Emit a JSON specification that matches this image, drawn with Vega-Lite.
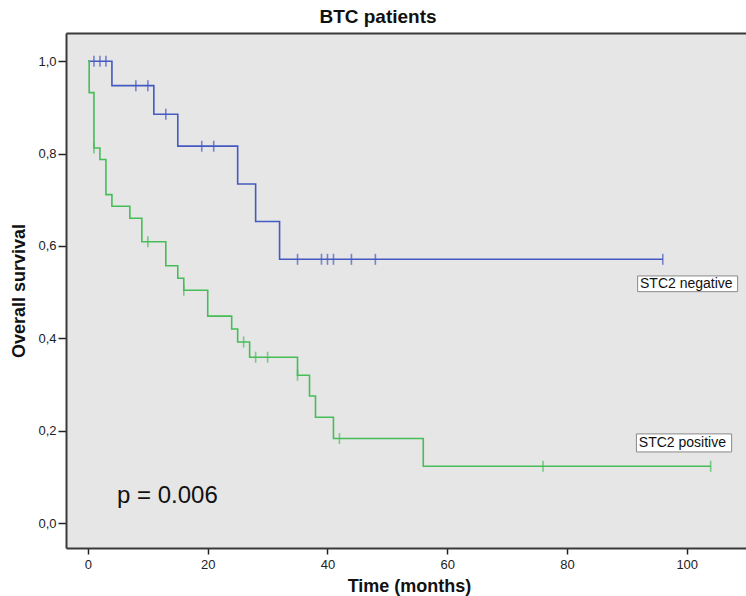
{
  "$schema": "https://vega.github.io/schema/vega-lite/v6.json",
  "width": 680,
  "height": 515,
  "autosize": {"type": "none"},
  "padding": {"left": 66, "top": 33, "right": 0, "bottom": 48},
  "background": "white",
  "config": {
    "font": "Liberation Sans",
    "view": {"stroke": null, "fill": "#e6e6e6"},
    "axis": {"grid": false, "domain": true, "domainColor": "#3a3a3a", "domainWidth": 2, "tickColor": "#222", "tickWidth": 1.5, "labelColor": "#222", "labelFont": "Liberation Sans", "labelFontSize": 13, "titleFont": "Liberation Sans", "titleFontWeight": "bold", "titleFontSize": 18, "titleColor": "#111"}
  },
  "title": {"text": "BTC patients", "anchor": "middle", "frame": "bounds", "fontSize": 19, "fontWeight": "bold", "font": "Liberation Sans", "color": "#111", "offset": 6},
  "resolve": {"axis": {"x": "independent"}},
  "datasets": {
    "curves": [
      {"group": "STC2 negative", "time": 0, "surv": 1.0},
      {"group": "STC2 negative", "time": 4, "surv": 0.947},
      {"group": "STC2 negative", "time": 11, "surv": 0.885},
      {"group": "STC2 negative", "time": 15, "surv": 0.816},
      {"group": "STC2 negative", "time": 25, "surv": 0.734},
      {"group": "STC2 negative", "time": 28, "surv": 0.653},
      {"group": "STC2 negative", "time": 32, "surv": 0.571},
      {"group": "STC2 negative", "time": 96, "surv": 0.571},
      {"group": "STC2 positive", "time": 0, "surv": 1.0},
      {"group": "STC2 positive", "time": 0.2, "surv": 0.932},
      {"group": "STC2 positive", "time": 1, "surv": 0.812},
      {"group": "STC2 positive", "time": 2, "surv": 0.787},
      {"group": "STC2 positive", "time": 3, "surv": 0.711},
      {"group": "STC2 positive", "time": 4, "surv": 0.686},
      {"group": "STC2 positive", "time": 7, "surv": 0.660},
      {"group": "STC2 positive", "time": 9, "surv": 0.609},
      {"group": "STC2 positive", "time": 13, "surv": 0.557},
      {"group": "STC2 positive", "time": 15, "surv": 0.530},
      {"group": "STC2 positive", "time": 16, "surv": 0.504},
      {"group": "STC2 positive", "time": 20, "surv": 0.448},
      {"group": "STC2 positive", "time": 24, "surv": 0.420},
      {"group": "STC2 positive", "time": 25, "surv": 0.392},
      {"group": "STC2 positive", "time": 27, "surv": 0.359},
      {"group": "STC2 positive", "time": 35, "surv": 0.320},
      {"group": "STC2 positive", "time": 37, "surv": 0.275},
      {"group": "STC2 positive", "time": 38, "surv": 0.229},
      {"group": "STC2 positive", "time": 41, "surv": 0.183},
      {"group": "STC2 positive", "time": 56, "surv": 0.123},
      {"group": "STC2 positive", "time": 104, "surv": 0.123}
    ],
    "censors": [
      {"group": "STC2 negative", "time": 1, "surv": 1.0},
      {"group": "STC2 negative", "time": 2, "surv": 1.0},
      {"group": "STC2 negative", "time": 3, "surv": 1.0},
      {"group": "STC2 negative", "time": 8, "surv": 0.947},
      {"group": "STC2 negative", "time": 10, "surv": 0.947},
      {"group": "STC2 negative", "time": 13, "surv": 0.885},
      {"group": "STC2 negative", "time": 19, "surv": 0.816},
      {"group": "STC2 negative", "time": 21, "surv": 0.816},
      {"group": "STC2 negative", "time": 35, "surv": 0.571},
      {"group": "STC2 negative", "time": 39, "surv": 0.571},
      {"group": "STC2 negative", "time": 40, "surv": 0.571},
      {"group": "STC2 negative", "time": 41, "surv": 0.571},
      {"group": "STC2 negative", "time": 44, "surv": 0.571},
      {"group": "STC2 negative", "time": 48, "surv": 0.571},
      {"group": "STC2 negative", "time": 96, "surv": 0.571},
      {"group": "STC2 positive", "time": 1, "surv": 0.812},
      {"group": "STC2 positive", "time": 10, "surv": 0.609},
      {"group": "STC2 positive", "time": 16, "surv": 0.504},
      {"group": "STC2 positive", "time": 26, "surv": 0.392},
      {"group": "STC2 positive", "time": 28, "surv": 0.359},
      {"group": "STC2 positive", "time": 30, "surv": 0.359},
      {"group": "STC2 positive", "time": 35, "surv": 0.320},
      {"group": "STC2 positive", "time": 42, "surv": 0.183},
      {"group": "STC2 positive", "time": 76, "surv": 0.123},
      {"group": "STC2 positive", "time": 104, "surv": 0.123}
    ],
    "boxes": [
      {"label": "STC2 negative", "x1": 91.8, "x2": 108.5, "y1": 0.501, "y2": 0.535, "tx": 92.2, "ty": 0.518},
      {"label": "STC2 positive", "x1": 91.6, "x2": 107.5, "y1": 0.154, "y2": 0.193, "tx": 92.0, "ty": 0.173}
    ],
    "pval": [
      {"label": "p = 0.006", "x": 4.85, "y": 0.044}
    ]
  },
  "layer": [
    {
      "data": {"name": "curves"},
      "mark": {"type": "line", "interpolate": "step-after", "strokeWidth": 1.6},
      "encoding": {
        "x": {"field": "time", "type": "quantitative", "scale": {"domain": [-3.67, 109.9], "nice": false, "zero": false},
              "axis": {"orient": "bottom", "values": [0, 20, 40, 60, 80, 100], "tickSize": 6, "labelPadding": 4, "title": "Time (months)", "titleX": 343, "titleY": 38, "titleBaseline": "middle", "titleAlign": "center"}},
        "y": {"field": "surv", "type": "quantitative", "scale": {"domain": [-0.054, 1.061], "nice": false, "zero": false},
              "axis": {"values": [0, 0.2, 0.4, 0.6, 0.8, 1.0], "tickSize": 8, "labelPadding": 2, "labelExpr": "replace(format(datum.value, '.1f'), '.', ',')", "title": "Overall survival", "titleX": -47, "titleY": 257.5, "titleBaseline": "middle", "titleAlign": "center", "titleAngle": -90}},
        "color": {"field": "group", "type": "nominal", "scale": {"domain": ["STC2 negative", "STC2 positive"], "range": ["#4459c2", "#46bd57"]}, "legend": null}
      }
    },
    {
      "data": {"name": "censors"},
      "mark": {"type": "tick", "orient": "vertical", "size": 11, "thickness": 1.6},
      "encoding": {
        "x": {"field": "time", "type": "quantitative", "axis": {"orient": "top", "labels": false, "ticks": false, "title": null, "domain": true}},
        "y": {"field": "surv", "type": "quantitative"},
        "color": {"field": "group", "type": "nominal", "legend": null}
      }
    },
    {
      "data": {"name": "boxes"},
      "mark": {"type": "rect", "fill": "white", "stroke": "#8a8a8a", "strokeWidth": 1},
      "encoding": {
        "x": {"field": "x1", "type": "quantitative", "axis": null},
        "x2": {"field": "x2"},
        "y": {"field": "y1", "type": "quantitative"},
        "y2": {"field": "y2"}
      }
    },
    {
      "data": {"name": "boxes"},
      "mark": {"type": "text", "align": "left", "baseline": "middle", "fontSize": 14, "font": "Liberation Sans", "color": "#111"},
      "encoding": {
        "x": {"field": "tx", "type": "quantitative", "axis": null},
        "y": {"field": "ty", "type": "quantitative"},
        "text": {"field": "label"}
      }
    },
    {
      "data": {"name": "pval"},
      "mark": {"type": "text", "align": "left", "baseline": "alphabetic", "fontSize": 24, "font": "Liberation Sans", "color": "#111"},
      "encoding": {
        "x": {"field": "x", "type": "quantitative", "axis": null},
        "y": {"field": "y", "type": "quantitative"},
        "text": {"field": "label"}
      }
    }
  ]
}
